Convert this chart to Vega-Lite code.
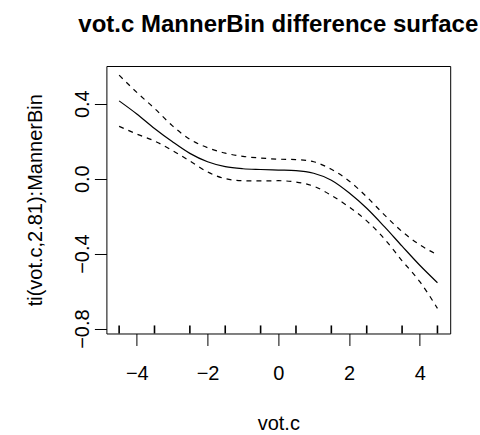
{
  "$schema": "https://vega.github.io/schema/vega-lite/v6.json",
  "autosize": {"type": "none"},
  "padding": {"left": 106.4, "top": 66, "right": 30, "bottom": 101.5},
  "width": 343.8,
  "height": 267.5,
  "background": "white",
  "title": {
    "text": "vot.c MannerBin difference surface",
    "font": "Liberation Sans",
    "fontSize": 24,
    "fontWeight": "bold",
    "color": "black",
    "anchor": "middle",
    "frame": "group",
    "baseline": "alphabetic",
    "offset": 36,
    "dy": 26
  },
  "config": {
    "view": {"stroke": "black", "strokeWidth": 1},
    "axis": {
      "grid": false,
      "domain": false,
      "tickColor": "black",
      "tickWidth": 1,
      "tickSize": 12,
      "labelColor": "black",
      "labelFont": "Liberation Sans",
      "labelFontSize": 20,
      "labelFlush": false,
      "labelOverlap": false,
      "labelBound": false,
      "titleColor": "black",
      "titleFont": "Liberation Sans",
      "titleFontSize": 20,
      "titleFontWeight": "normal"
    }
  },
  "datasets": {
    "smooth": [
      {"x": -4.5, "fit": 0.415, "upper": 0.552, "lower": 0.279},
      {"x": -4.0, "fit": 0.345, "upper": 0.460, "lower": 0.238},
      {"x": -3.5, "fit": 0.268, "upper": 0.375, "lower": 0.201},
      {"x": -3.0, "fit": 0.198, "upper": 0.283, "lower": 0.151},
      {"x": -2.5, "fit": 0.135, "upper": 0.210, "lower": 0.094},
      {"x": -2.0, "fit": 0.090, "upper": 0.165, "lower": 0.036},
      {"x": -1.5, "fit": 0.064, "upper": 0.136, "lower": 0.000},
      {"x": -1.0, "fit": 0.053, "upper": 0.119, "lower": -0.011},
      {"x": -0.5, "fit": 0.049, "upper": 0.110, "lower": -0.012},
      {"x": 0.0, "fit": 0.046, "upper": 0.104, "lower": -0.011},
      {"x": 0.5, "fit": 0.043, "upper": 0.102, "lower": -0.018},
      {"x": 1.0, "fit": 0.029, "upper": 0.090, "lower": -0.040},
      {"x": 1.5, "fit": -0.008, "upper": 0.050, "lower": -0.089},
      {"x": 2.0, "fit": -0.075, "upper": -0.012, "lower": -0.151},
      {"x": 2.5, "fit": -0.158, "upper": -0.097, "lower": -0.225},
      {"x": 3.0, "fit": -0.256, "upper": -0.193, "lower": -0.321},
      {"x": 3.5, "fit": -0.360, "upper": -0.282, "lower": -0.438},
      {"x": 4.0, "fit": -0.462, "upper": -0.353, "lower": -0.549},
      {"x": 4.5, "fit": -0.555, "upper": -0.406, "lower": -0.692}
    ],
    "rug": [
      {"x": -4.5}, {"x": -3.5}, {"x": -2.5}, {"x": -1.5}, {"x": -0.5},
      {"x": 0.5}, {"x": 1.5}, {"x": 2.5}, {"x": 3.5}, {"x": 4.5}
    ]
  },
  "layer": [
    {
      "data": {"name": "smooth"},
      "mark": {"type": "line", "color": "black", "strokeWidth": 1.2, "interpolate": "monotone"},
      "encoding": {
        "x": {
          "field": "x", "type": "quantitative",
          "scale": {"domain": [-4.86, 4.86], "nice": false, "zero": false},
          "axis": {
            "title": "vot.c",
            "values": [-4, -2, 0, 2, 4],
            "format": ".0f",
            "labelBaseline": "alphabetic",
            "labelPadding": 34.5,
            "titleX": 171.9,
            "titleY": 96.5,
            "titleBaseline": "alphabetic",
            "titleAnchor": "middle"
          }
        },
        "y": {
          "field": "fit", "type": "quantitative",
          "scale": {"domain": [-0.826, 0.601], "nice": false, "zero": false},
          "axis": {
            "title": "ti(vot.c,2.81):MannerBin",
            "values": [0.6, 0.4, 0.2, 0, -0.2, -0.4, -0.6, -0.8],
            "format": ".1f",
            "labelExpr": "abs(round(datum.value*10)) % 4 == 0 ? datum.label : ''",
            "labelAngle": -90,
            "labelAlign": "center",
            "labelBaseline": "alphabetic",
            "labelPadding": 6,
            "titleAngle": -90,
            "titleX": -64.5,
            "titleY": 133.75,
            "titleBaseline": "alphabetic",
            "titleAlign": "center"
          }
        }
      }
    },
    {
      "data": {"name": "smooth"},
      "mark": {"type": "line", "color": "black", "strokeWidth": 1.2, "strokeDash": [5, 5], "interpolate": "monotone"},
      "encoding": {
        "x": {"field": "x", "type": "quantitative"},
        "y": {"field": "upper", "type": "quantitative"}
      }
    },
    {
      "data": {"name": "smooth"},
      "mark": {"type": "line", "color": "black", "strokeWidth": 1.2, "strokeDash": [5, 5], "interpolate": "monotone"},
      "encoding": {
        "x": {"field": "x", "type": "quantitative"},
        "y": {"field": "lower", "type": "quantitative"}
      }
    },
    {
      "data": {"name": "rug"},
      "mark": {"type": "rule", "color": "black", "strokeWidth": 1.6},
      "encoding": {
        "x": {"field": "x", "type": "quantitative"},
        "y": {"datum": -0.826, "type": "quantitative"},
        "y2": {"datum": -0.783}
      }
    }
  ]
}
